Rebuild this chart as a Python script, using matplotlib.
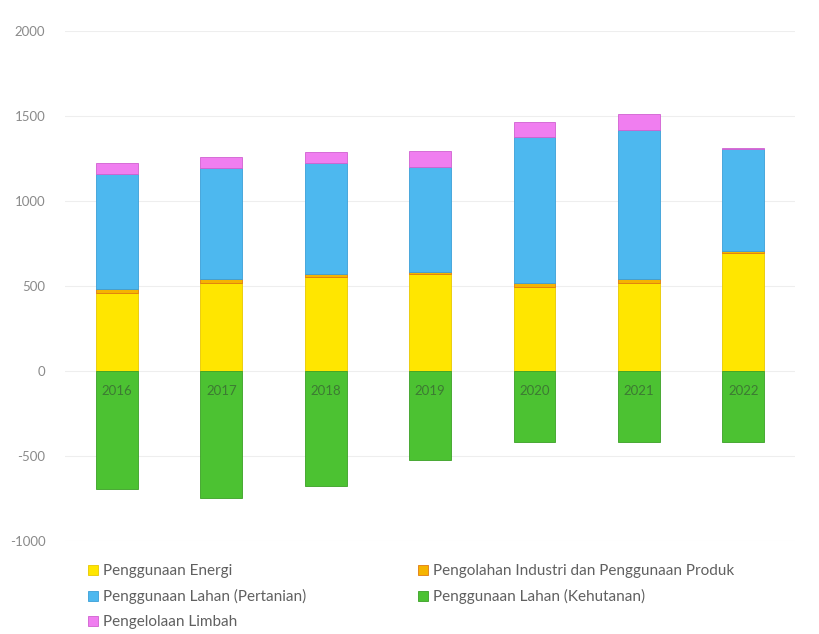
import numpy as np
import matplotlib.pyplot as plt

plt.rcParams['font.family'] = ['Lato', 'DejaVu Sans']
plt.rcParams['axes.unicode_minus'] = False

tahun = ["2016", "2017", "2018", "2019", "2020", "2021", "2022"]
energi = [460, 517, 553, 570, 494, 517, 694]
ippu = [20, 24, 17, 12, 23, 24, 12]
pertanian = [678, 653, 653, 618, 859, 876, 599]
limbah = [65, 64, 65, 94, 88, 94, 4]
kehutanan = [-694, -747, -676, -523, -417, -420, -418]

warna = {
    "energi": "#ffe600",
    "ippu": "#f5b400",
    "pertanian": "#4db8ef",
    "kehutanan": "#4cc232",
    "limbah": "#f07ef0",
}
tepi = {
    "energi": "#e8c800",
    "ippu": "#e07a10",
    "pertanian": "#3a9fd8",
    "kehutanan": "#3aa025",
    "limbah": "#d060d0",
}

x = np.arange(len(tahun))
lebar = 0.4

fig = plt.figure(figsize=(8.2, 6.34), dpi=100)
ax = fig.add_axes([0.079, 0.147, 0.891, 0.804])

b1 = ax.bar(x, energi, lebar, color=warna["energi"], edgecolor=tepi["energi"], linewidth=0.6, zorder=2)
bawah = np.array(energi)
b2 = ax.bar(x, ippu, lebar, bottom=bawah, color=warna["ippu"], edgecolor=tepi["ippu"], linewidth=0.6, zorder=2)
bawah = bawah + np.array(ippu)
b3 = ax.bar(x, pertanian, lebar, bottom=bawah, color=warna["pertanian"], edgecolor=tepi["pertanian"], linewidth=0.6, zorder=2)
bawah = bawah + np.array(pertanian)
b5 = ax.bar(x, limbah, lebar, bottom=bawah, color=warna["limbah"], edgecolor=tepi["limbah"], linewidth=0.6, zorder=2)
b4 = ax.bar(x, kehutanan, lebar, color=warna["kehutanan"], edgecolor=tepi["kehutanan"], linewidth=0.6, zorder=2)

ax.set_xlim(-0.5, len(tahun) - 0.5)
ax.set_ylim(-1000, 2000)
ax.set_yticks(np.arange(-1000, 2001, 500))
ax.tick_params(axis="y", length=0, labelsize=9.5, labelcolor="#8a8a8a", pad=14)
ax.grid(axis="y", color="#eeeeee", linewidth=0.8)
ax.yaxis.set_zorder(0)

# label tahun di garis nol, seperti di Excel
ax.spines["bottom"].set_position(("data", 0))
ax.set_xticks(x)
ax.set_xticklabels(tahun)
ax.tick_params(axis="x", length=0, labelsize=9.5, labelcolor="#3d7a33", pad=10)
ax.xaxis.set_zorder(5)
for s in ax.spines.values():
    s.set_visible(False)

handles = [b1, b3, b5, b2, b4]
labels = ["Penggunaan Energi", "Penggunaan Lahan (Pertanian)", "Pengelolaan Limbah",
          "Pengolahan Industri dan Penggunaan Produk", "Penggunaan Lahan (Kehutanan)"]
fig.legend(handles, labels, ncol=2, loc="upper left", bbox_to_anchor=(0.1, 0.12),
           frameon=False, fontsize=11, labelcolor="#606060", handlelength=0.65,
           handleheight=0.65, handletextpad=0.35, columnspacing=7.3, labelspacing=0.72,
           borderaxespad=0)

plt.savefig("out.png", dpi=100)
